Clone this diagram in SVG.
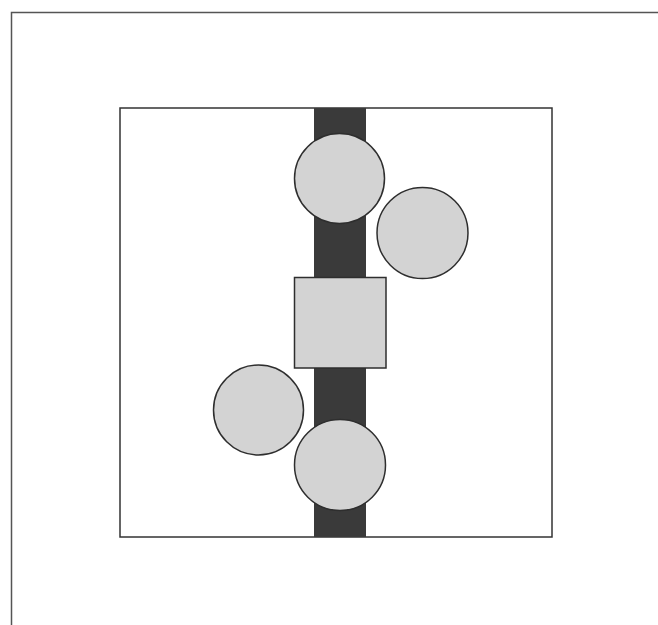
<svg xmlns="http://www.w3.org/2000/svg" width="658" height="625" viewBox="0 0 658 625">
<style>
.frame{fill:none;stroke:#555;stroke-width:1.5}
.box{fill:#fff;stroke:#333;stroke-width:1.5}
.bar{fill:#3a3a3a}
.node{fill:#d3d3d3;stroke:#2e2e2e;stroke-width:1.5}
</style>
<rect width="658" height="625" fill="#fff"/>
<path class="frame" d="M11.5,625 V12.5 H658"/>
<rect class="box" x="120" y="108" width="432" height="429"/>
<rect class="bar" x="314" y="108" width="52" height="429"/>
<g id="connectors"></g>
<g id="circle-top"><circle class="node" cx="339.5" cy="178.5" r="45"/></g>
<g id="circle-right"><circle class="node" cx="422.5" cy="233" r="45.5"/></g>
<g id="square-center"><rect class="node" x="294.5" y="277.5" width="91.5" height="90.5"/></g>
<g id="circle-left"><circle class="node" cx="258.5" cy="410" r="45"/></g>
<g id="circle-bottom"><circle class="node" cx="340" cy="465" r="45.5"/></g>
</svg>
